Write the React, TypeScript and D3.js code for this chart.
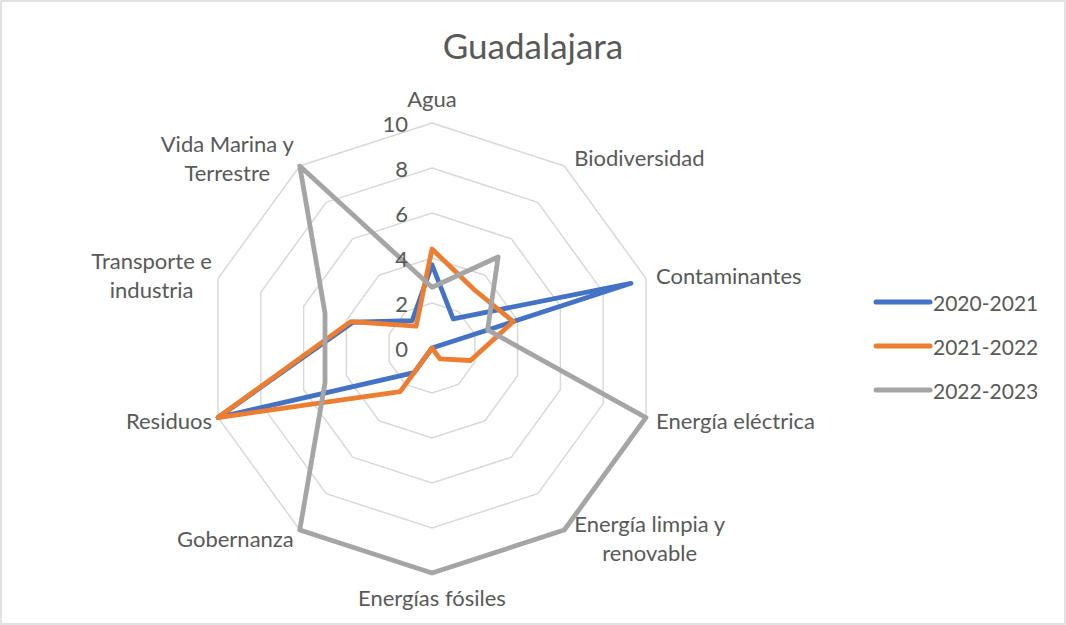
import React, { useEffect, useRef } from "react";
import * as d3 from "d3";

const categories = [
  "Agua",
  "Biodiversidad",
  "Contaminantes",
  "Energía eléctrica",
  "Energía limpia y\nrenovable",
  "Energías fósiles",
  "Gobernanza",
  "Residuos",
  "Transporte e\nindustria",
  "Vida Marina y\nTerrestre",
];
const seriesNames = ["2020-2021", "2021-2022", "2022-2023"];
const values2020 = [3.7, 1.6, 9.3, 0, 0, 0, 1.35, 10, 3.7, 1.5];
const values2021 = [4.4, 3.2, 3.8, 1.8, 0.6, 0, 2.4, 10, 3.8, 1.2];
const values2022 = [2.7, 5, 2.6, 10, 10, 10, 10, 5, 5, 10];
const ticks = [0, 2, 4, 6, 8, 10];
const colors = ["#4472C4", "#ED7D31", "#A5A5A5"];

const FONT = "Lato, 'Open Sans', sans-serif";
const TEXT = "#595959";

function RadarChart() {
  const svgRef = useRef<SVGSVGElement | null>(null);

  useEffect(() => {
    const width = 1066;
    const height = 625;
    const cx = 432;
    const cy = 348;
    const R = 225;
    const n = categories.length;
    const series = [values2020, values2021, values2022];

    const svg = d3.select(svgRef.current);
    svg.selectAll("*").remove();
    svg.attr("width", width).attr("height", height).style("font-family", FONT);

    svg
      .append("rect")
      .attr("x", 1)
      .attr("y", 1)
      .attr("width", width - 2)
      .attr("height", height - 2)
      .attr("fill", "#fff")
      .attr("stroke", "#d9d9d9")
      .attr("stroke-width", 1.5);

    // title
    svg
      .append("text")
      .attr("x", width / 2)
      .attr("y", 45)
      .attr("text-anchor", "middle")
      .attr("dominant-baseline", "central")
      .attr("fill", TEXT)
      .style("font-size", "35px")
      .text("Guadalajara");

    const rScale = d3.scaleLinear().domain([0, 10]).range([0, R]);
    const angle = (i: number) => (i * 2 * Math.PI) / n;

    const plot = svg.append("g").attr("transform", `translate(${cx},${cy})`);

    const radar = d3
      .lineRadial<number>()
      .angle((_, i) => angle(i))
      .radius((d) => rScale(d))
      .curve(d3.curveLinearClosed);

    // grid rings (no spokes)
    plot
      .selectAll("path.grid")
      .data(ticks.filter((t) => t > 0))
      .join("path")
      .attr("class", "grid")
      .attr("d", (t) => radar(d3.range(n).map(() => t)))
      .attr("fill", "none")
      .attr("stroke", "#d9d9d9")
      .attr("stroke-width", 1.5);

    // series lines
    plot
      .selectAll("path.series")
      .data(series)
      .join("path")
      .attr("class", "series")
      .attr("d", (d) => radar(d))
      .attr("fill", "none")
      .attr("stroke", (_, i) => colors[i])
      .attr("stroke-width", 4.8)
      .attr("stroke-linejoin", "round")
      .attr("stroke-linecap", "round");

    // tick labels
    plot
      .selectAll("text.tick")
      .data(ticks)
      .join("text")
      .attr("class", "tick")
      .attr("x", -24)
      .attr("y", (t) => -rScale(t))
      .attr("text-anchor", "end")
      .attr("dominant-baseline", "central")
      .attr("fill", TEXT)
      .style("font-size", "22px")
      .text((t) => t);

    // category labels
    const lineH = 29;
    categories.forEach((label, i) => {
      const a = angle(i);
      const s = Math.sin(a);
      const c = Math.cos(a);
      const vx = cx + R * s;
      const vy = cy - R * c;
      const lines = label.split("\n");
      const g = svg.append("g");
      const texts = lines.map((ln) =>
        g
          .append("text")
          .attr("text-anchor", "middle")
          .attr("dominant-baseline", "central")
          .attr("fill", TEXT)
          .style("font-size", "22px")
          .text(ln)
      );
      const bw = d3.max(texts, (t) => (t.node() as SVGTextElement).getComputedTextLength()) || 0;
      const bh = lines.length * lineH;
      let left: number;
      if (Math.abs(s) < 0.1) left = vx - bw / 2;
      else if (s > 0) left = vx + 10;
      else left = vx - 6 - bw;
      const midY = Math.abs(s) < 0.1 ? vy - c * (bh / 2 + 10) : vy - c * 10;
      texts.forEach((t, k) => {
        t.attr("x", left + bw / 2).attr("y", midY - bh / 2 + lineH * (k + 0.5));
      });
    });

    // legend
    const legend = svg
      .append("g")
      .selectAll("g")
      .data(seriesNames)
      .join("g")
      .attr("transform", (_, i) => `translate(876,${302 + i * 44})`);
    legend
      .append("line")
      .attr("x1", 0)
      .attr("x2", 54)
      .attr("stroke", (_, i) => colors[i])
      .attr("stroke-width", 5)
      .attr("stroke-linecap", "round");
    legend
      .append("text")
      .attr("x", 57)
      .attr("dominant-baseline", "central")
      .attr("fill", TEXT)
      .style("font-size", "21px")
      .text((d) => d);
  }, []);

  return <svg ref={svgRef} style={{ display: "block" }} />;
}

export default function App() {
  return (
    <>
      <style>{"body{margin:0}"}</style>
      <RadarChart />
    </>
  );
}
